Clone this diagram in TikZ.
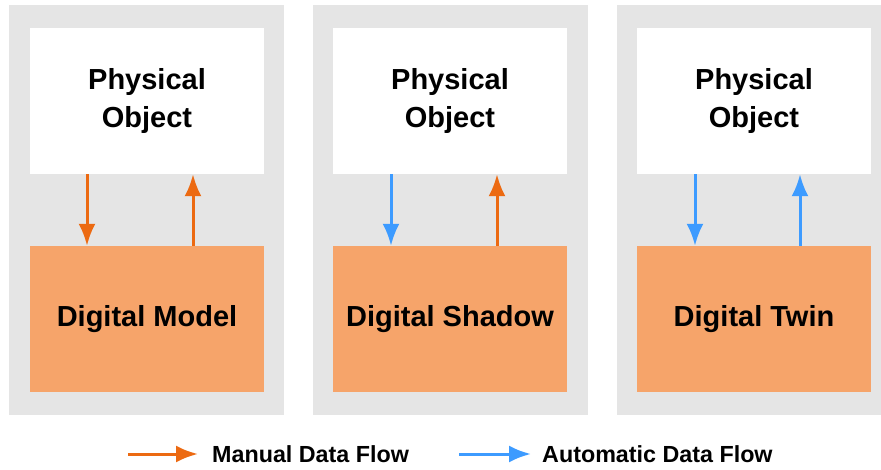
\documentclass[tikz,border=0pt]{standalone}
\usepackage{fontspec}
\setmainfont{Liberation Sans}
\usetikzlibrary{arrows.meta,positioning}

\definecolor{panelgray}{HTML}{E5E5E5}
\definecolor{boxorange}{HTML}{F6A46A}
\definecolor{manualorange}{HTML}{EC6A12}
\definecolor{autoblue}{HTML}{3D9BFF}

\tikzset{
  physbox/.style={fill=white, minimum width=234pt, minimum height=146pt, inner sep=0pt,
    align=center, font=\bfseries\fontsize{29}{38}\selectfont},
  digibox/.style={fill=boxorange, minimum width=234pt, minimum height=146pt, inner sep=0pt,
    align=center, font=\bfseries\fontsize{29}{38}\selectfont},
  manual/.style={draw=manualorange, line width=3pt, -{Latex[length=22pt,width=17pt]}},
  automatic/.style={draw=autoblue, line width=3pt, -{Latex[length=22pt,width=17pt]}},
  legendarrow/.style={line width=3pt, -{Latex[length=22pt,width=17pt]}},
  legendtext/.style={anchor=west, inner sep=0pt, font=\bfseries\fontsize{23.3}{26}\selectfont}
}

\begin{document}
\begin{tikzpicture}[x=1pt, y=-1pt]
  \useasboundingbox (0,0) rectangle (881,470);
  % panels
  \fill[panelgray] (9,5) rectangle (284,415);
  \fill[panelgray] (313,5) rectangle (588,415);
  \fill[panelgray] (617,5) rectangle (892,415);
  % boxes
  \node[physbox] (po1) at (147,101) {Physical\\Object};
  \node[physbox] (po2) at (450,101) {Physical\\Object};
  \node[physbox] (po3) at (754,101) {Physical\\Object};
  \node[digibox] (dm) at (147,319) {Digital Model};
  \node[digibox] (ds) at (450,319) {Digital Shadow};
  \node[digibox] (dt) at (754,319) {Digital Twin};
  % data flows
  \draw[manual] ([xshift=-60pt]po1.south) -- ([xshift=-60pt]dm.north);
  \draw[manual] ([xshift=46pt]dm.north) -- ([xshift=46pt]po1.south);
  \draw[automatic] ([xshift=-59pt]po2.south) -- ([xshift=-59pt]ds.north);
  \draw[manual] ([xshift=47pt]ds.north) -- ([xshift=47pt]po2.south);
  \draw[automatic] ([xshift=-59pt]po3.south) -- ([xshift=-59pt]dt.north);
  \draw[automatic] ([xshift=46pt]dt.north) -- ([xshift=46pt]po3.south);
  % legend
  \node[legendtext] (mantxt) at (212,454) {Manual Data Flow};
  \node[legendtext] (autotxt) at (542,454) {Automatic Data Flow};
  \coordinate (manstart) at (128,454);
  \coordinate (autostart) at (459,454);
  \draw[legendarrow, manualorange] (manstart) -- ([xshift=-14pt]mantxt.west);
  \draw[legendarrow, autoblue] (autostart) -- ([xshift=-11pt]autotxt.west);
\end{tikzpicture}
\end{document}
